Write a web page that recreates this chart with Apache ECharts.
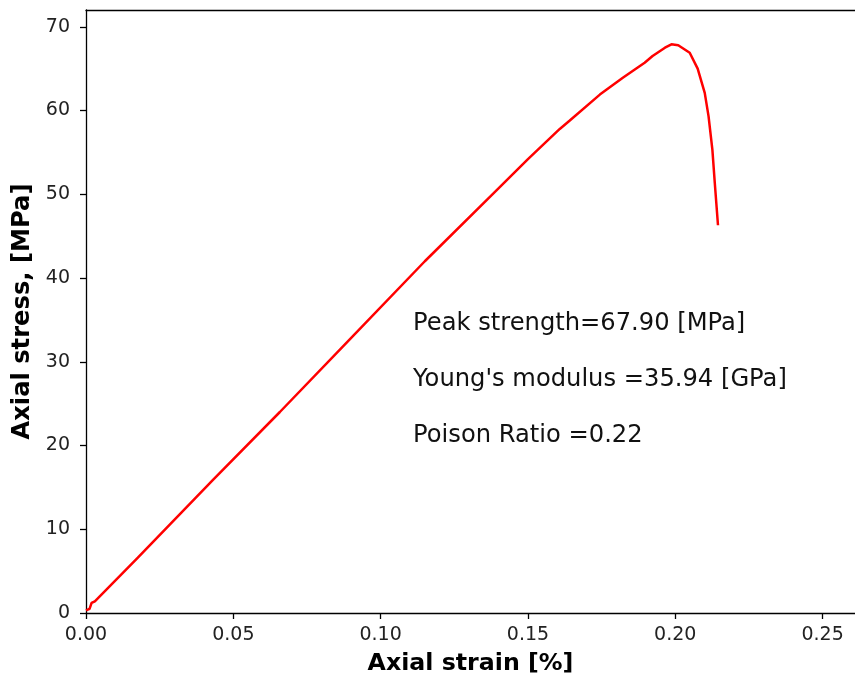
<!DOCTYPE html>
<html>
<head>
<meta charset="utf-8">
<script src="https://cdn.jsdelivr.net/npm/echarts@6/dist/echarts.min.js"></script>
<style>
html,body{margin:0;padding:0;background:#fff;}
#chart{width:855px;height:677px;}
</style>
</head>
<body>
<div id="chart"></div>
<script>
// Axial strain [%] values
var strain = [0.0, 0.0012, 0.0016, 0.0019, 0.003, 0.0176, 0.0431, 0.0658, 0.0896, 0.115, 0.1394, 0.15, 0.1608, 0.1642, 0.1744, 0.1822, 0.1896, 0.1923, 0.1965, 0.1987, 0.201, 0.2049, 0.2076, 0.21, 0.2113, 0.2126, 0.2134, 0.2145];
// Axial stress [MPa] values
var stress = [0.3, 0.5, 0.5, 1.2, 1.4, 6.6, 15.9, 24.0, 32.7, 42.0, 50.5, 54.2, 57.8, 58.8, 61.9, 63.9, 65.7, 66.5, 67.5, 67.9, 67.8, 66.9, 65.0, 62.1, 59.3, 55.3, 51.4, 46.3];
var xTicks = [0.00, 0.05, 0.10, 0.15, 0.20, 0.25];
var yTicks = [0, 10, 20, 30, 40, 50, 60, 70];
var notes = ["Peak strength=67.90 [MPa]", "Young's modulus =35.94 [GPa]", "Poison Ratio =0.22"];
var noteX = 0.111;
var noteY = [34.6, 27.9, 21.2];

var pts = strain.map(function (s, i) { return [s, stress[i]]; });
var chart = echarts.init(document.getElementById('chart'), null, {renderer: 'canvas'});
var FONT = 'DejaVu Sans';
var option = {
  animation: false,
  backgroundColor: '#ffffff',
  grid: {left: 86, right: 0, top: 10, bottom: 64, containLabel: false, outerBoundsMode: 'none'},
  xAxis: [{
    type: 'value', min: 0, max: 0.261, interval: 0.05,
    name: 'Axial strain [%]', nameLocation: 'middle', nameGap: 39,
    nameTextStyle: {fontFamily: FONT, fontSize: 23.7, fontWeight: 'bold', color: '#000'},
    axisLine: {show: true, onZero: false, lineStyle: {color: '#000', width: 1.3}},
    axisTick: {show: true, length: 6, lineStyle: {color: '#000', width: 1.3}, customValues: xTicks},
    axisLabel: {fontFamily: FONT, fontSize: 19, color: '#222', margin: 13, customValues: xTicks,
      formatter: function (v) { return v.toFixed(2); }},
    splitLine: {show: false}
  }, {
    type: 'value', position: 'top', min: 0, max: 0.261,
    axisLine: {show: true, onZero: false, lineStyle: {color: '#000', width: 1.3}},
    axisTick: {show: false}, axisLabel: {show: false}, splitLine: {show: false}
  }],
  yAxis: {
    type: 'value', min: 0, max: 72, interval: 10,
    name: 'Axial stress, [MPa]', nameLocation: 'middle', nameGap: 48,
    nameTextStyle: {fontFamily: FONT, fontSize: 24.2, fontWeight: 'bold', color: '#000'},
    axisLine: {show: true, onZero: false, lineStyle: {color: '#000', width: 1.3}},
    axisTick: {show: true, length: 6, lineStyle: {color: '#000', width: 1.3}, customValues: yTicks},
    axisLabel: {fontFamily: FONT, fontSize: 19, color: '#222', margin: 16, customValues: yTicks},
    splitLine: {show: false}
  },
  series: [{
    type: 'line', data: pts, showSymbol: false, symbol: 'none',
    lineStyle: {color: '#ff0000', width: 2.5}, xAxisIndex: 0
  }]
};
chart.setOption(option);
var g = notes.map(function (t, i) {
  var p = chart.convertToPixel({xAxisIndex: 0, yAxisIndex: 0}, [noteX, noteY[i]]);
  return {type: 'text', x: p[0], y: p[1],
    style: {text: t, fontFamily: FONT, fontSize: 24.2, fill: '#111', verticalAlign: 'middle'}};
});
chart.setOption({graphic: g});
</script>
</body>
</html>
